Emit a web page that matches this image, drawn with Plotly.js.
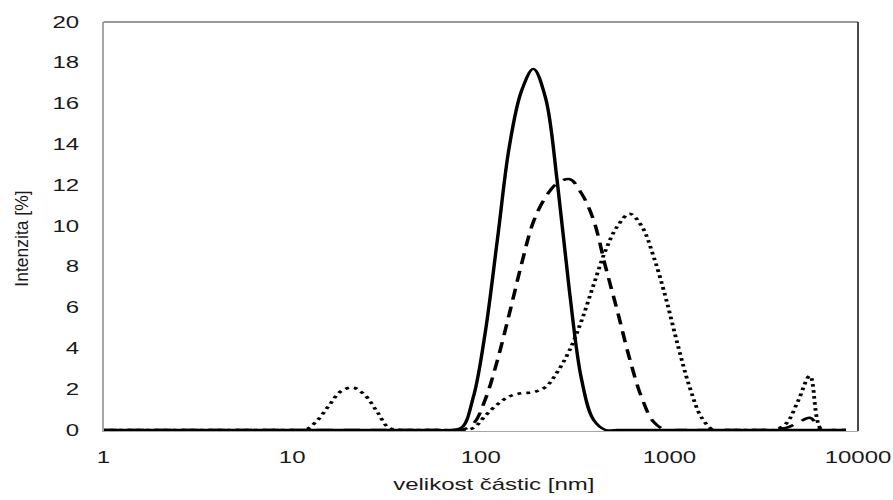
<!DOCTYPE html>
<html>
<head>
<meta charset="utf-8">
<script src="https://cdn.plot.ly/plotly-3.0.1.min.js"></script>
<style>
  html, body { margin: 0; padding: 0; background: #fff; overflow: hidden; }
  #chart { width: 595.33px; height: 500px; transform: scaleX(1.5); transform-origin: 0 0; }
  #chart .g-ytitle { transform: translateY(12px) scaleX(0.6667); transform-box: fill-box; transform-origin: 50% 50%; }
  #chart .g-xtitle { transform: translateX(8.7px); }
</style>
</head>
<body>
<div id="chart"></div>
<script>
// Particle size bins [nm]
const sizes = [0.965,1.117,1.294,1.499,1.736,2.010,2.328,2.696,3.122,3.615,
  4.187,4.849,5.615,6.503,7.531,8.721,10.10,11.70,13.54,15.69,
  18.17,21.04,24.36,28.21,32.67,37.84,43.82,50.75,58.77,68.06,
  78.82,91.28,105.7,122.4,141.8,164.2,190.1,220.2,255.0,295.3,
  342.0,396.1,458.7,531.2,615.1,712.4,825.0,955.4,1106,1281,
  1484,1718,1990,2305,2669,3091,3580,4145,4801,5560,
  6439,7456,8635];

// Intensity [%] – solid curve
const seriesSolid = [0,0,0,0,0,0,0,0,0,0,
  0,0,0,0,0,0,0,0,0,0,
  0,0,0,0,0,0,0,0,0,0,
  0.1,1.6,4.8,9.3,13.9,16.6,17.7,16.3,12.1,6.8,
  2.5,0.5,0,0,0,0,0,0,0,0,
  0,0,0,0,0,0,0,0,0,0,
  0,0,0];

// Intensity [%] – dashed curve
const seriesDashed = [0,0,0,0,0,0,0,0,0,0,
  0,0,0,0,0,0,0,0,0,0,
  0,0,0,0,0,0,0,0,0,0,
  0,0.3,1.5,3.4,5.7,8.1,10.2,11.4,12.1,12.3,
  11.6,10.3,8.0,5.8,3.5,1.6,0.4,0,0,0,
  0,0,0,0,0,0,0,0.1,0.35,0.6,
  0,0,0];

// Intensity [%] – dotted curve
const seriesDotted = [0,0,0,0,0,0,0,0,0,0,
  0,0,0,0,0,0,0,0,0.45,1.2,
  1.9,2.08,1.7,0.9,0.1,0,0,0,0,0,
  0,0.1,0.7,1.25,1.65,1.8,1.85,2.1,2.85,3.9,
  5.35,7.1,8.8,10.0,10.6,10.0,8.5,6.5,4.2,2.1,
  0.6,0,0,0,0,0,0,0.3,1.4,2.65,
  0,0,0];

const xTickVals = [1, 10, 100, 1000, 10000];
const xTickText = ["1", "10", "100", "1000", "10000"];
const yTickVals = [0, 2, 4, 6, 8, 10, 12, 14, 16, 18, 20];

const xTitle = "velikost částic [nm]";
const yTitle = "Intenzita [%]";

function trace(y, dash, width) {
  return {
    x: sizes, y: y, type: 'scatter', mode: 'lines',
    line: { color: '#000', width: width, dash: dash, shape: 'spline', smoothing: 1 },
    showlegend: false, hoverinfo: 'skip'
  };
}

const data = [
  trace(seriesDotted, '2.6px,3.4px', 2.6),
  trace(seriesDashed, '11px,7px', 2.4),
  trace(seriesSolid, 'solid', 2.3)
];

const font = { family: 'Liberation Sans, Arial, sans-serif', size: 16, color: '#1a1a1a' };

const layout = {
  width: 595.33, height: 500,
  margin: { l: 69.33, r: 22.67, t: 22, b: 69 },
  paper_bgcolor: '#fff', plot_bgcolor: '#fff',
  font: font,
  xaxis: {
    type: 'log', range: [0, 4],
    tickvals: xTickVals, ticktext: xTickText,
    showgrid: false, zeroline: false,
    showline: true, linecolor: '#a6a6a6', linewidth: 1,
    ticks: '', ticklabelstandoff: 12,
    tickfont: font,
    title: { text: xTitle, font: font, standoff: 13 },
    automargin: false
  },
  yaxis: {
    range: [-0.05, 20],
    tickvals: yTickVals,
    showgrid: false, zeroline: false,
    showline: true, linecolor: '#a6a6a6', linewidth: 1,
    ticks: '', ticklabelstandoff: 12,
    tickfont: font,
    title: { text: yTitle, font: Object.assign({}, font, { size: 17.5 }), standoff: 9 },
    automargin: false
  },
  shapes: [
    { type: 'line', xref: 'paper', yref: 'paper', x0: 0, x1: 1, y0: 1, y1: 1,
      line: { color: '#333', width: 1.2 } },
    { type: 'line', xref: 'paper', yref: 'paper', x0: 1, x1: 1, y0: 0, y1: 1,
      line: { color: '#333', width: 1.2 } }
  ]
};

Plotly.newPlot('chart', data, layout, { staticPlot: true, displayModeBar: false });
</script>
</body>
</html>
